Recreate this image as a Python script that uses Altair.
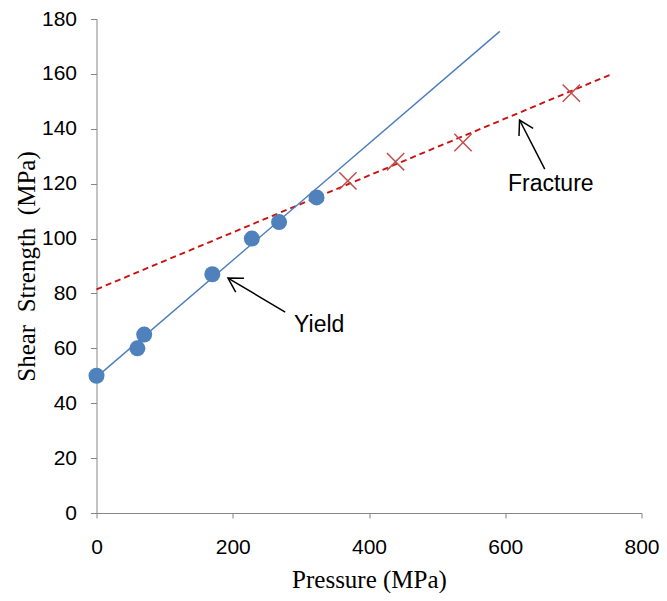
import altair as alt
import pandas as pd

# measured points
yield_pressure = [0, 60, 70, 170, 228, 268, 323]
yield_strength = [50, 60, 65, 87, 100, 106, 115]
fracture_pressure = [369, 439, 538, 697]
fracture_strength = [121, 128, 135, 153]

# fitted trend lines (end points)
yield_fit_x = [0, 592]
yield_fit_y = [49.5, 175.5]
fracture_fit_x = [0, 757]
fracture_fit_y = [81.5, 160]

# annotations: label, label position, arrow tail, arrow tip, arrow angle
note_text = ["Yield", "Fracture"]
note_x = [290, 604]
note_y = [68.4, 119.9]
arrow_x = [277, 658]
arrow_y = [73.2, 125.3]
arrow_x2 = [193, 621]
arrow_y2 = [85.6, 143.2]
arrow_angle = [211, 242]

SANS = "Liberation Sans"
SERIF = "Liberation Serif"
AXIS_GREY = "#868686"
NBSP = "\u00a0"

pts_yield = pd.DataFrame({"p": yield_pressure, "s": yield_strength})
pts_frac = pd.DataFrame({"p": fracture_pressure, "s": fracture_strength})
fit_yield = pd.DataFrame({"p": yield_fit_x, "s": yield_fit_y})
fit_frac = pd.DataFrame({"p": fracture_fit_x, "s": fracture_fit_y})
notes = pd.DataFrame({"text": note_text, "x": note_x, "y": note_y})
arrows = pd.DataFrame(
    {"x": arrow_x, "y": arrow_y, "x2": arrow_x2, "y2": arrow_y2, "angle": arrow_angle}
)

x_scale = alt.Scale(domain=[0, 800], nice=False)
y_scale = alt.Scale(domain=[0, 180], nice=False)

x_axis = alt.Axis(
    values=[0, 200, 400, 600, 800],
    grid=False,
    domainColor=AXIS_GREY,
    tickColor=AXIS_GREY,
    tickSize=5,
    labelFlush=False,
    labelFont=SANS,
    labelFontSize=21,
    labelColor="black",
    labelPadding=18,
    titleFont=SERIF,
    titleFontSize=25,
    titleFontWeight="normal",
    titleColor="black",
    titlePadding=10,
)
y_axis = alt.Axis(
    values=list(range(0, 181, 20)),
    grid=False,
    domainColor=AXIS_GREY,
    tickColor=AXIS_GREY,
    tickSize=6,
    labelFlush=False,
    labelFont=SANS,
    labelFontSize=21,
    labelColor="black",
    labelPadding=14,
    titleFont=SERIF,
    titleFontSize=25,
    titleFontWeight="normal",
    titleColor="black",
    titlePadding=2,
)

y_title = f"Shear{NBSP} Strength{NBSP} (MPa)"

yield_line = (
    alt.Chart(fit_yield)
    .mark_line(color="#4A7EBB", strokeWidth=1.4, clip=False)
    .encode(
        x=alt.X("p:Q", scale=x_scale, axis=x_axis, title="Pressure (MPa)"),
        y=alt.Y("s:Q", scale=y_scale, axis=y_axis, title=y_title),
    )
)

frac_line = (
    alt.Chart(fit_frac)
    .mark_line(color="#CC1111", strokeWidth=1.9, strokeDash=[6, 4])
    .encode(x="p:Q", y="s:Q")
)

yield_pts = (
    alt.Chart(pts_yield)
    .mark_point(shape="circle", filled=True, color="#4F81BD", opacity=1, size=256)
    .encode(x="p:Q", y="s:Q")
)

frac_pts = (
    alt.Chart(pts_frac)
    .mark_point(
        shape="M-1,-1L1,1M1,-1L-1,1",
        filled=False,
        color="#C0504D",
        strokeWidth=1.5,
        opacity=1,
        size=300,
    )
    .encode(x="p:Q", y="s:Q")
)

arrow_shafts = (
    alt.Chart(arrows)
    .mark_rule(color="black", strokeWidth=1.5)
    .encode(x="x:Q", y="y:Q", x2="x2:Q", y2="y2:Q")
)

arrow_heads = (
    alt.Chart(arrows)
    .mark_point(
        shape="M-1.73,-1L0,0L-1.73,1",
        filled=False,
        color="black",
        strokeWidth=1.5,
        opacity=1,
        size=256,
    )
    .encode(x="x2:Q", y="y2:Q", angle=alt.Angle("angle:Q", scale=None))
)

labels = (
    alt.Chart(notes)
    .mark_text(font=SANS, fontSize=23, align="left", baseline="middle", color="black")
    .encode(x="x:Q", y="y:Q", text="text:N")
)

chart = (
    alt.layer(frac_line, yield_line, yield_pts, frac_pts, arrow_shafts, arrow_heads, labels)
    .properties(
        width=545,
        height=494,
        autosize=alt.AutoSizeParams(type="none"),
        padding={"left": 88.5, "top": 11, "right": 17.5, "bottom": 80},
        background="white",
    )
    .configure_view(stroke=None)
)

chart.save("out.html", embed_options={"renderer": "svg", "actions": False})
